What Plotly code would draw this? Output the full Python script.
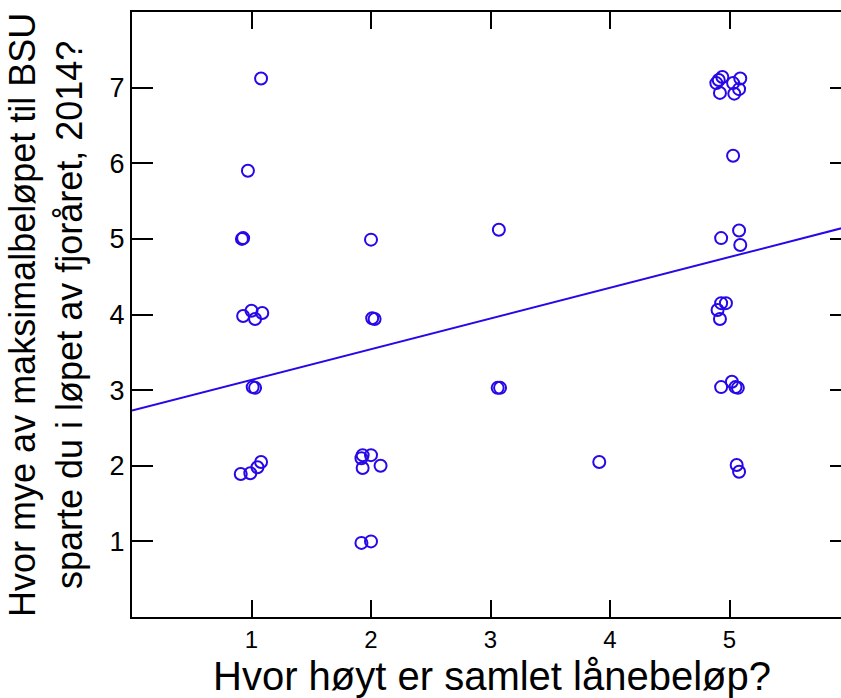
import plotly.graph_objects as go

# Data (jittered responses)
x_vals = [1.08, 0.97, 0.92, 0.93, 0.93, 1.00, 1.03, 1.09, 1.01, 1.03, 0.91, 0.99, 1.05, 1.08,
          2.00, 2.01, 2.03, 1.93, 2.00, 1.92, 1.93, 2.08, 1.92, 2.00,
          3.07, 3.06, 3.08,
          3.91,
          4.91, 4.94, 4.89, 5.03, 5.09, 4.92, 5.04, 5.08, 5.03,
          4.93, 5.08, 5.09, 4.93, 4.97, 4.90, 4.92,
          4.93, 5.02, 5.05, 5.07, 5.06, 5.08]
y_vals = [7.12, 5.90, 5.00, 5.01, 3.98, 4.05, 3.94, 4.02, 3.04, 3.03, 1.89, 1.90, 1.98, 2.05,
          4.99, 3.95, 3.94, 2.14, 2.14, 2.10, 1.97, 2.00, 0.98, 1.00,
          5.12, 3.03, 3.03,
          2.05,
          7.10, 7.14, 7.06, 7.06, 7.12, 6.93, 6.92, 6.98, 6.10,
          5.01, 5.11, 4.92, 4.15, 4.15, 4.06, 3.94,
          3.04, 3.11, 3.04, 3.03, 2.01, 1.92]

fit_intercept = 2.73
fit_slope = 0.406
fit_x = [0, 6]
fit_y = [fit_intercept + fit_slope * v for v in fit_x]

x_ticks = [1, 2, 3, 4, 5]
y_ticks = [1, 2, 3, 4, 5, 6, 7]

x_title = "Hvor høyt er samlet lånebeløp?"
y_title = "Hvor mye av maksimalbeløpet til BSU<br>sparte du i løpet av fjoråret, 2014?"

blue = "rgb(38,8,232)"

fig = go.Figure()
fig.add_trace(go.Scatter(x=fit_x, y=fit_y, mode="lines",
                         line=dict(color=blue, width=2), showlegend=False, hoverinfo="skip"))
fig.add_trace(go.Scatter(x=x_vals, y=y_vals, mode="markers",
                         marker=dict(symbol="circle-open", size=12, color=blue,
                                     line=dict(width=2, color=blue)),
                         showlegend=False))
# invisible trace to hold right-side tick axis
fig.add_trace(go.Scatter(x=[0], y=[0], yaxis="y2", mode="markers",
                         marker=dict(opacity=0), showlegend=False, hoverinfo="skip"))

font_family = "Liberation Sans, Arial, sans-serif"

fig.update_layout(
    width=841, height=698,
    margin=dict(l=132, r=0, t=12, b=81, autoexpand=False),
    plot_bgcolor="white", paper_bgcolor="white",
    font=dict(family=font_family, color="black"),
    xaxis=dict(range=[0, 5.933], tickvals=x_ticks, ticks="inside", ticklen=17,
               tickwidth=2, tickcolor="black", showline=True, linewidth=2,
               linecolor="black", mirror="ticks", showgrid=False, zeroline=False,
               tickfont=dict(size=24), automargin=False),
    yaxis=dict(range=[0, 8], tickvals=y_ticks, ticks="inside", ticklen=21,
               tickwidth=2, tickcolor="black", showline=True, linewidth=2,
               linecolor="black", showgrid=False, zeroline=False,
               tickfont=dict(size=27), automargin=False),
    yaxis2=dict(range=[0, 8], overlaying="y", side="right", tickvals=y_ticks,
                ticks="inside", ticklen=11, tickwidth=2, tickcolor="black",
                showticklabels=False, showline=False, showgrid=False, zeroline=False),
    annotations=[
        dict(text=x_title, xref="paper", yref="paper", x=0.508, y=-0.137,
             xanchor="center", yanchor="bottom", showarrow=False,
             font=dict(size=40, family=font_family, color="black")),
        dict(text=y_title, xref="paper", yref="paper", x=-0.187, y=0.50,
             xanchor="left", yanchor="middle", showarrow=False, textangle=-90,
             font=dict(size=36, family=font_family, color="black")),
    ],
)

fig.write_html("out.html")
